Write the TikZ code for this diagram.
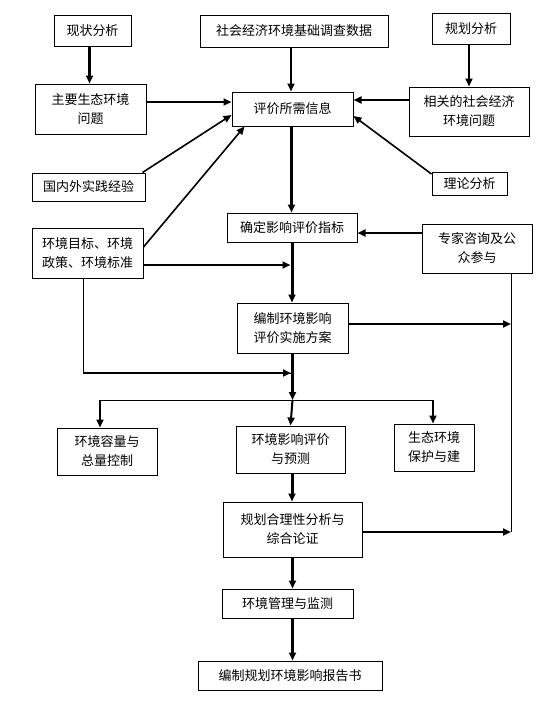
\documentclass[tikz,border=0pt]{standalone}
\usepackage{fontspec}
\newfontfamily\cjk{Noto Sans CJK SC}
\usetikzlibrary{arrows.meta}
\begin{document}
\begin{tikzpicture}[x=1pt,y=-1pt,
 box/.style={draw,line width=1pt,align=center,inner sep=0pt,font=\cjk\fontsize{13}{19}\selectfont},
 arr/.style={-{Triangle[length=8pt,width=7pt]},line width=2pt},
 thk/.style={line width=3pt},
 thn/.style={line width=1pt}]
\useasboundingbox (0,0) rectangle (558,718);
% boxes
\node[box,minimum width=77pt,minimum height=31pt] (xz) at (92.5,30.5) {现状分析};
\node[box,minimum width=188pt,minimum height=32pt] (sj) at (294,31) {社会经济环境基础调查数据};
\node[box,minimum width=78pt,minimum height=31pt] (gh) at (471,28.5) {规划分析};
\node[box,minimum width=111pt,minimum height=50pt] (zy) at (90.5,109) {主要生态环境\\问题};
\node[box,minimum width=121pt,minimum height=34pt] (pj) at (292.5,109) {评价所需信息};
\node[box,minimum width=120pt,minimum height=49pt] (xg) at (469,111.5) {相关的社会经济\\环境问题};
\node[box,minimum width=113pt,minimum height=28pt] (gn) at (88.5,187) {国内外实践经验};
\node[box,minimum width=75pt,minimum height=23pt] (ll) at (469.5,183.5) {理论分析};
\node[box,minimum width=111pt,minimum height=50pt] (mb) at (87.5,253) {环境目标、环境\\政策、环境标准};
\node[box,minimum width=130pt,minimum height=29pt] (qd) at (292,227.5) {确定影响评价指标};
\node[box,minimum width=110pt,minimum height=49pt] (zj) at (477,248.5) {专家咨询及公\\众参与};
\node[box,minimum width=111pt,minimum height=50pt] (bz) at (292.5,328) {编制环境影响\\评价实施方案};
\node[box,minimum width=100pt,minimum height=47pt] (rl) at (107,451.5) {环境容量与\\总量控制};
\node[box,minimum width=109pt,minimum height=47pt] (yc) at (290.5,449.5) {环境影响评价\\与预测};
\node[box,minimum width=80pt,minimum height=47pt] (st) at (434,447.5) {生态环境\\保护与建};
\node[box,minimum width=139pt,minimum height=55pt] (hl) at (292.5,529.5) {规划合理性分析与\\综合论证};
\node[box,minimum width=131pt,minimum height=29pt] (gl) at (287.5,603.5) {环境管理与监测};
\node[box,minimum width=184pt,minimum height=29pt] (bg) at (290,675.5) {编制规划环境影响报告书};
% helper coordinates
\coordinate (ja) at (292.5,373);
\coordinate (jb) at (292.5,400);
\coordinate (jl) at (100,400);
\coordinate (jr) at (433,400);
\coordinate (zjb) at ([xshift=34pt]zj.south);
\coordinate (mbb) at ([xshift=-4.5pt]mb.south);
% top connectors
\draw[arr,thk] ([xshift=-3pt]xz.south) -- ([xshift=-3pt]xz.south |- zy.north);
\draw[arr] ([xshift=-3pt]sj.south) -- ([xshift=-3pt]sj.south |- pj.north);
\draw[arr] ([xshift=-2pt]gh.south) -- ([xshift=-2pt]gh.south |- xg.north);
\draw[arr] ([yshift=7pt]zy.east) -- ([yshift=7pt]zy.east -| pj.west);
\draw[arr] ([yshift=11.5pt]xg.west) -- ([yshift=11.5pt]xg.west -| pj.east);
\draw[arr,line width=1.6pt] ([xshift=-3pt]gn.north east) -- ([yshift=-6pt]pj.west);
\draw[arr,line width=1.6pt] ([yshift=6pt]mb.east) -- ([xshift=13pt]pj.south west);
\draw[arr,line width=1.6pt] ([yshift=9.5pt]ll.west) -- ([yshift=-7pt]pj.east);
% trunk
\draw[arr,thk] ([xshift=-1pt]pj.south) -- ([xshift=-1pt]pj.south |- qd.north);
\draw[arr] ([yshift=15.5pt]zj.west) -- ([yshift=15.5pt]zj.west -| qd.east);
\draw[arr,thk] (qd.south) -- (qd.south |- bz.north);
\draw[arr] ([yshift=-12pt]mb.east) -- ([yshift=-12pt,xshift=-1.5pt]mb.east -| qd.south);
\draw[arr] ([yshift=4pt]bz.east) -- ([yshift=4pt]bz.east -| zjb);
\draw[thn] (zj.south -| zjb) -- ([yshift=-2.5pt]hl.east -| zjb);
\draw[arr] ([yshift=-2.5pt]hl.east) -- ([yshift=-2.5pt]hl.east -| zjb);
\draw[thn] (mbb) |- (ja);
\draw[arr] ([yshift=0pt]mbb |- ja) -- ([xshift=-1.5pt]ja);
\draw[arr,thk] (bz.south) -- (jb);
\draw[thn] (jl) -- (jr);
\draw[arr] (jl) -- (jl |- rl.north);
\draw[arr] (jb) -- ([xshift=-2pt]jb |- yc.north);
\draw[arr] (jr) -- (jr |- st.north);
\draw[arr,thk] ([xshift=1.5pt]yc.south) -- ([xshift=1.5pt]yc.south |- hl.north);
\draw[arr,thk] (hl.south) -- (hl.south |- gl.north);
\draw[arr,thk] (hl.south |- gl.south) -- (hl.south |- bg.north);
\end{tikzpicture}
\end{document}
